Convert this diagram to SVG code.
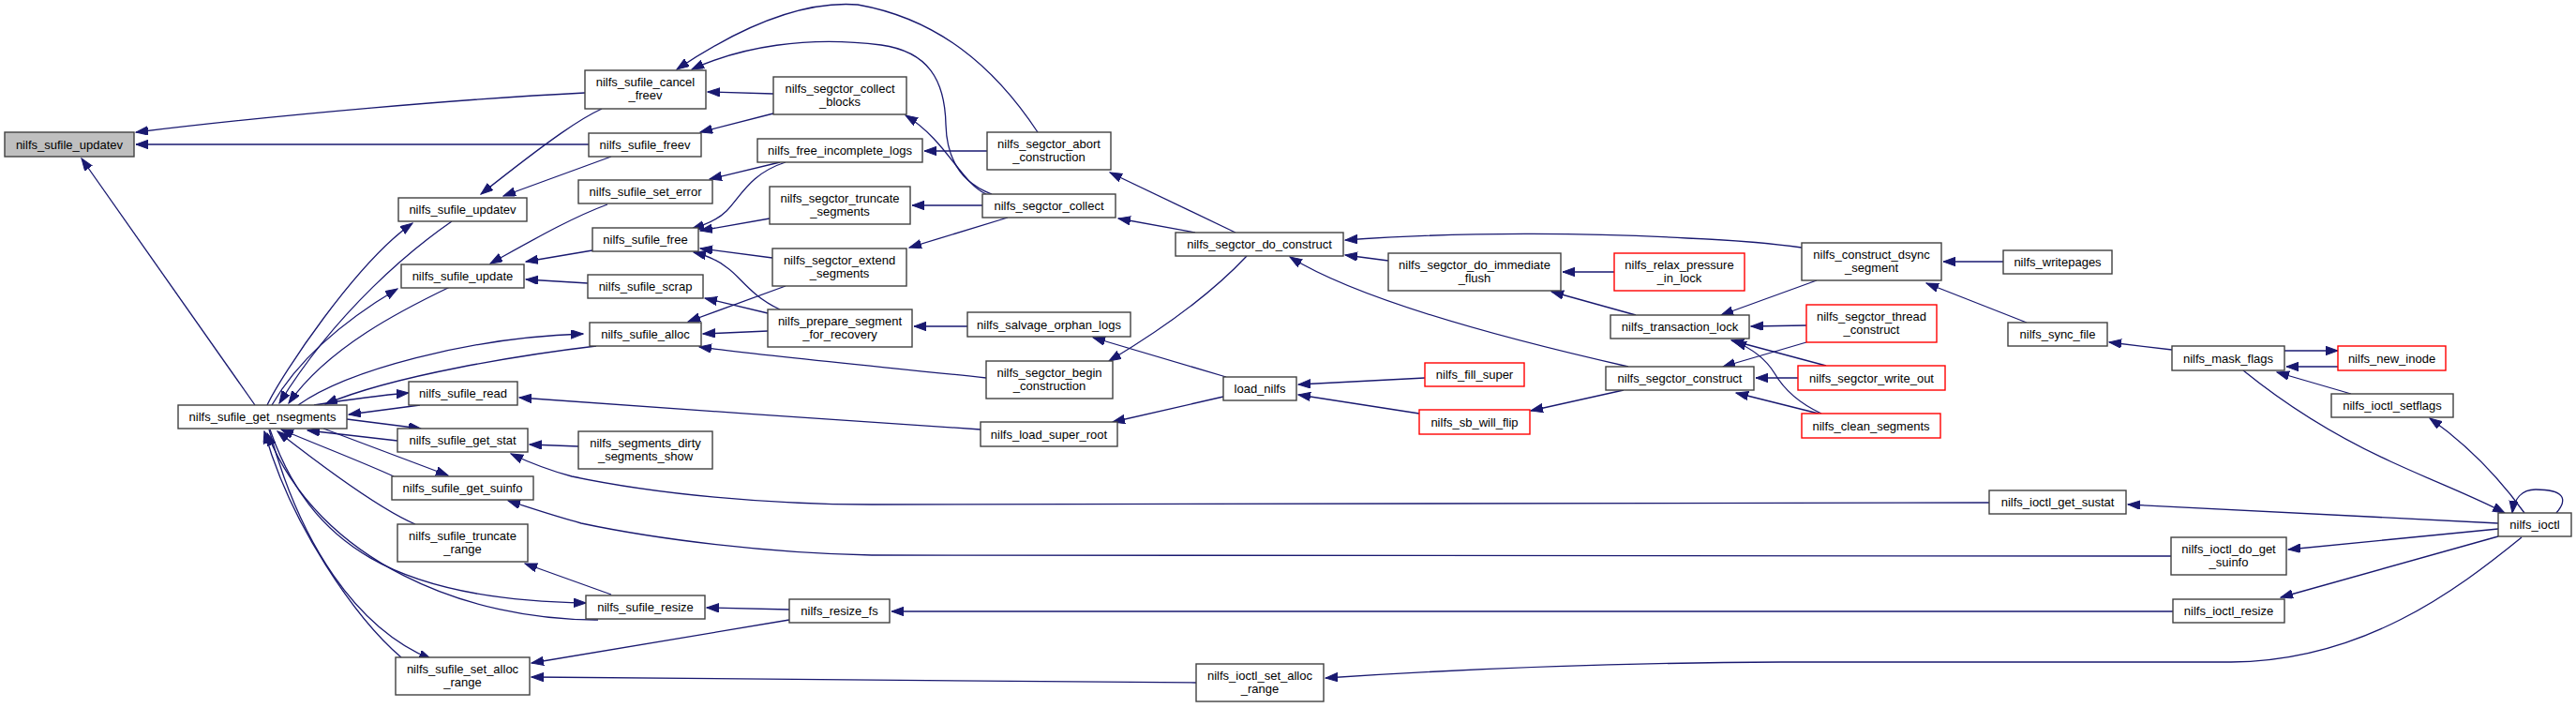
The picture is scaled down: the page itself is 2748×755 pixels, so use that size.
<svg xmlns="http://www.w3.org/2000/svg" width="2748" height="755" viewBox="0 0 2748 755">
<style>
.n rect{fill:#fff;stroke:#404040;stroke-width:1.4}
.r rect{fill:#fff;stroke:#ff0000;stroke-width:1.4}
.root rect{fill:#bfbfbf;stroke:#404040;stroke-width:1.4}
text{font-family:"Liberation Sans",Arial,sans-serif;font-size:13px;text-anchor:middle;fill:#000}
#edges path{fill:none;stroke:#191970;stroke-width:1.3;marker-end:url(#a)}
</style>
<defs>
<marker id="a" markerUnits="userSpaceOnUse" markerWidth="14" markerHeight="10" refX="13" refY="4.7" orient="auto">
<path d="M0,0 L13,4.7 L0,9.4 z" fill="#191970" stroke="#191970" stroke-width="1"/>
</marker>
</defs>
<rect width="2748" height="755" fill="#fff"/>
<g id="edges">
<path d="M624,99 C500,105 300,122 145,141"/>
<path d="M628,154 L145,154"/>
<path d="M272,432 L87,169"/>
<path d="M642,116 C620,126 590,146 513,207"/>
<path d="M652,167 L537,209"/>
<path d="M285,432 C300,400 380,280 440,238"/>
<path d="M482,236 C440,265 360,330 298,430"/>
<path d="M290,432 C320,380 370,340 424,308"/>
<path d="M480,306 C430,330 350,370 308,430"/>
<path d="M636,369 C560,378 420,400 347,431"/>
<path d="M318,432 C370,395 500,360 622,356"/>
<path d="M448,432 L372,442"/>
<path d="M335,432 C360,428 400,422 436,419"/>
<path d="M370,447 L449,457"/>
<path d="M424,470 L328,459"/>
<path d="M345,457 L478,507"/>
<path d="M420,508 C380,490 340,475 300,458"/>
<path d="M443,559 C410,545 360,510 296,460"/>
<path d="M288,458 C330,580 420,640 625,643"/>
<path d="M638,661 C500,662 340,600 285,462"/>
<path d="M287,458 C320,580 380,670 460,703"/>
<path d="M428,701 C380,660 310,560 282,460"/>
<path d="M648,218 C610,232 570,255 523,281"/>
<path d="M632,267 L561,279"/>
<path d="M627,302 L561,298"/>
<path d="M825,100 L755,98"/>
<path d="M825,121 L747,141"/>
<path d="M1107,141 C1060,70 1000,20 915,5 C850,0 780,35 722,74"/>
<path d="M1058,207 C1025,195 1010,170 1009,133 C1008,85 990,55 940,48 C860,38 790,50 738,74"/>
<path d="M1052,207 C1025,195 1010,150 966,123"/>
<path d="M1053,161 L986,161"/>
<path d="M832,173 L757,191"/>
<path d="M838,173 C800,185 790,210 775,225 C765,235 752,240 738,244"/>
<path d="M821,233 L747,246"/>
<path d="M824,275 L747,265"/>
<path d="M832,330 C800,315 790,295 775,285 C765,277 752,272 740,269"/>
<path d="M819,334 L752,318"/>
<path d="M838,305 L734,343"/>
<path d="M819,353 L750,356"/>
<path d="M1052,403 C950,392 820,380 746,370"/>
<path d="M1046,458 C900,448 700,435 554,424"/>
<path d="M617,476 L565,474"/>
<path d="M2122,536 L930,538 C820,538 700,527 610,508 C580,500 562,492 545,484"/>
<path d="M2316,593 L930,592 C820,590 700,575 620,558 C590,550 570,543 542,534"/>
<path d="M652,634 L560,601"/>
<path d="M842,650 L754,648"/>
<path d="M842,661 L567,707"/>
<path d="M1276,728 L567,722"/>
<path d="M2318,652 L951,652"/>
<path d="M2690,573 C2620,630 2520,705 2380,706 L1900,706 C1700,707 1550,714 1414,723"/>
<path d="M1318,248 L1184,184"/>
<path d="M1275,248 L1193,233"/>
<path d="M1048,219 L973,219"/>
<path d="M1075,232 L970,264"/>
<path d="M1032,348 L975,348"/>
<path d="M1308,402 L1166,360"/>
<path d="M1330,273 C1300,305 1250,345 1183,385"/>
<path d="M1305,423 L1187,450"/>
<path d="M1520,403 L1385,410"/>
<path d="M1514,441 L1385,421"/>
<path d="M1732,416 L1633,438"/>
<path d="M1922,264 C1880,258 1850,256 1800,254 C1700,248 1560,247 1435,256"/>
<path d="M1481,278 L1435,272"/>
<path d="M1737,391 C1600,360 1450,320 1376,274"/>
<path d="M1722,290 L1667,290"/>
<path d="M1745,336 L1655,311"/>
<path d="M1938,299 L1836,336"/>
<path d="M1927,347 L1868,348"/>
<path d="M1948,390 L1847,363"/>
<path d="M1943,441 C1915,428 1900,410 1893,398 C1885,385 1870,372 1850,364"/>
<path d="M1927,365 L1838,391"/>
<path d="M1918,403 L1873,403"/>
<path d="M1940,441 L1852,419"/>
<path d="M2137,279 L2073,279"/>
<path d="M2162,344 L2055,302"/>
<path d="M2317,373 L2250,365"/>
<path d="M2437,374 L2494,374"/>
<path d="M2494,391 L2439,391"/>
<path d="M2508,420 L2429,397"/>
<path d="M2393,395 C2430,425 2480,460 2550,492 C2600,515 2640,530 2672,547"/>
<path d="M2693,547 C2670,515 2640,480 2592,446"/>
<path d="M2727,547 C2740,532 2735,522 2705,522 C2690,522 2682,532 2680,547"/>
<path d="M2665,558 L2270,538"/>
<path d="M2665,564 L2441,586"/>
<path d="M2665,572 L2433,637"/>
</g>
<g id="n0" class="root"><rect x="5" y="141" width="138" height="26"/><text x="74" y="158.5">nilfs_sufile_updatev</text></g>
<g id="n1" class="n"><rect x="190" y="432" width="180" height="25"/><text x="280" y="449">nilfs_sufile_get_nsegments</text></g>
<g id="n2" class="n"><rect x="624" y="75" width="129" height="41"/><text x="688.5" y="92">nilfs_sufile_cancel</text><text x="688.5" y="106">_freev</text></g>
<g id="n3" class="n"><rect x="628" y="142" width="120" height="25"/><text x="688" y="159">nilfs_sufile_freev</text></g>
<g id="n4" class="n"><rect x="425" y="211" width="137" height="25"/><text x="493.5" y="228">nilfs_sufile_updatev</text></g>
<g id="n5" class="n"><rect x="428" y="282" width="131" height="25"/><text x="493.5" y="299">nilfs_sufile_update</text></g>
<g id="n6" class="n"><rect x="617" y="192" width="143" height="25"/><text x="688.5" y="209">nilfs_sufile_set_error</text></g>
<g id="n7" class="n"><rect x="632" y="243" width="113" height="25"/><text x="688.5" y="260">nilfs_sufile_free</text></g>
<g id="n8" class="n"><rect x="627" y="293" width="123" height="25"/><text x="688.5" y="310">nilfs_sufile_scrap</text></g>
<g id="n9" class="n"><rect x="629" y="344" width="119" height="25"/><text x="688.5" y="361">nilfs_sufile_alloc</text></g>
<g id="n10" class="n"><rect x="436" y="407" width="116" height="25"/><text x="494" y="424">nilfs_sufile_read</text></g>
<g id="n11" class="n"><rect x="424" y="457" width="139" height="25"/><text x="493.5" y="474">nilfs_sufile_get_stat</text></g>
<g id="n12" class="n"><rect x="418" y="508" width="151" height="25"/><text x="493.5" y="525">nilfs_sufile_get_suinfo</text></g>
<g id="n13" class="n"><rect x="424" y="559" width="139" height="40"/><text x="493.5" y="575.5">nilfs_sufile_truncate</text><text x="493.5" y="589.5">_range</text></g>
<g id="n14" class="n"><rect x="422" y="701" width="143" height="40"/><text x="493.5" y="717.5">nilfs_sufile_set_alloc</text><text x="493.5" y="731.5">_range</text></g>
<g id="n15" class="n"><rect x="617" y="460" width="143" height="40"/><text x="688.5" y="476.5">nilfs_segments_dirty</text><text x="688.5" y="490.5">_segments_show</text></g>
<g id="n16" class="n"><rect x="625" y="635" width="127" height="25"/><text x="688.5" y="652">nilfs_sufile_resize</text></g>
<g id="n17" class="n"><rect x="825" y="82" width="142" height="40"/><text x="896" y="98.5">nilfs_segctor_collect</text><text x="896" y="112.5">_blocks</text></g>
<g id="n18" class="n"><rect x="808" y="148" width="176" height="25"/><text x="896" y="165">nilfs_free_incomplete_logs</text></g>
<g id="n19" class="n"><rect x="821" y="199" width="150" height="40"/><text x="896" y="215.5">nilfs_segctor_truncate</text><text x="896" y="229.5">_segments</text></g>
<g id="n20" class="n"><rect x="824" y="265" width="143" height="40"/><text x="895.5" y="281.5">nilfs_segctor_extend</text><text x="895.5" y="295.5">_segments</text></g>
<g id="n21" class="n"><rect x="819" y="330" width="154" height="40"/><text x="896" y="346.5">nilfs_prepare_segment</text><text x="896" y="360.5">_for_recovery</text></g>
<g id="n22" class="n"><rect x="1053" y="141" width="132" height="40"/><text x="1119" y="157.5">nilfs_segctor_abort</text><text x="1119" y="171.5">_construction</text></g>
<g id="n23" class="n"><rect x="1048" y="207" width="142" height="25"/><text x="1119" y="224">nilfs_segctor_collect</text></g>
<g id="n24" class="n"><rect x="1032" y="333" width="174" height="26"/><text x="1119" y="350.5">nilfs_salvage_orphan_logs</text></g>
<g id="n25" class="n"><rect x="1254" y="248" width="179" height="25"/><text x="1343.5" y="265">nilfs_segctor_do_construct</text></g>
<g id="n26" class="n"><rect x="1052" y="385" width="135" height="40"/><text x="1119.5" y="401.5">nilfs_segctor_begin</text><text x="1119.5" y="415.5">_construction</text></g>
<g id="n27" class="n"><rect x="1046" y="450" width="146" height="26"/><text x="1119" y="467.5">nilfs_load_super_root</text></g>
<g id="n28" class="n"><rect x="1305" y="402" width="78" height="25"/><text x="1344" y="419">load_nilfs</text></g>
<g id="n29" class="n"><rect x="1276" y="708" width="136" height="40"/><text x="1344" y="724.5">nilfs_ioctl_set_alloc</text><text x="1344" y="738.5">_range</text></g>
<g id="n30" class="n"><rect x="842" y="639" width="107" height="25"/><text x="895.5" y="656">nilfs_resize_fs</text></g>
<g id="n31" class="n"><rect x="1481" y="270" width="184" height="40"/><text x="1573" y="286.5">nilfs_segctor_do_immediate</text><text x="1573" y="300.5">_flush</text></g>
<g id="n32" class="r"><rect x="1722" y="270" width="139" height="40"/><text x="1791.5" y="286.5">nilfs_relax_pressure</text><text x="1791.5" y="300.5">_in_lock</text></g>
<g id="n33" class="n"><rect x="1718" y="336" width="148" height="25"/><text x="1792" y="353">nilfs_transaction_lock</text></g>
<g id="n34" class="r"><rect x="1520" y="387" width="106" height="25"/><text x="1573" y="404">nilfs_fill_super</text></g>
<g id="n35" class="r"><rect x="1514" y="437" width="118" height="26"/><text x="1573" y="454.5">nilfs_sb_will_flip</text></g>
<g id="n36" class="n"><rect x="1713" y="391" width="158" height="25"/><text x="1792" y="408">nilfs_segctor_construct</text></g>
<g id="n37" class="n"><rect x="1922" y="259" width="149" height="40"/><text x="1996.5" y="275.5">nilfs_construct_dsync</text><text x="1996.5" y="289.5">_segment</text></g>
<g id="n38" class="n"><rect x="2137" y="267" width="116" height="25"/><text x="2195" y="284">nilfs_writepages</text></g>
<g id="n39" class="r"><rect x="1927" y="325" width="139" height="40"/><text x="1996.5" y="341.5">nilfs_segctor_thread</text><text x="1996.5" y="355.5">_construct</text></g>
<g id="n40" class="n"><rect x="2142" y="344" width="106" height="25"/><text x="2195" y="361">nilfs_sync_file</text></g>
<g id="n41" class="r"><rect x="1918" y="390" width="157" height="26"/><text x="1996.5" y="407.5">nilfs_segctor_write_out</text></g>
<g id="n42" class="r"><rect x="1922" y="441" width="148" height="26"/><text x="1996" y="458.5">nilfs_clean_segments</text></g>
<g id="n43" class="n"><rect x="2122" y="523" width="146" height="25"/><text x="2195" y="540">nilfs_ioctl_get_sustat</text></g>
<g id="n44" class="n"><rect x="2317" y="369" width="120" height="26"/><text x="2377" y="386.5">nilfs_mask_flags</text></g>
<g id="n45" class="r"><rect x="2494" y="369" width="115" height="26"/><text x="2551.5" y="386.5">nilfs_new_inode</text></g>
<g id="n46" class="n"><rect x="2487" y="420" width="130" height="25"/><text x="2552" y="437">nilfs_ioctl_setflags</text></g>
<g id="n47" class="n"><rect x="2665" y="547" width="78" height="25"/><text x="2704" y="564">nilfs_ioctl</text></g>
<g id="n48" class="n"><rect x="2316" y="573" width="123" height="40"/><text x="2377.5" y="589.5">nilfs_ioctl_do_get</text><text x="2377.5" y="603.5">_suinfo</text></g>
<g id="n49" class="n"><rect x="2318" y="639" width="119" height="25"/><text x="2377.5" y="656">nilfs_ioctl_resize</text></g>
</svg>
